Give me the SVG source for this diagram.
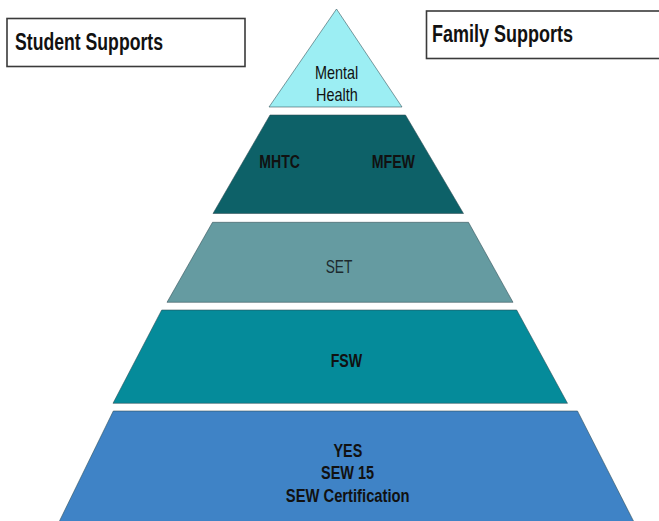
<svg xmlns="http://www.w3.org/2000/svg" width="659" height="521" viewBox="0 0 659 521">
<style>
  .box { fill: #ffffff; stroke: #3a3a3a; stroke-width: 1.6; }
  .layer { stroke: #2e4a52; stroke-opacity: 0.55; stroke-width: 1; }
  .t { font-family: "Liberation Sans", Arial, sans-serif; fill: #111111; }
  .b { font-weight: bold; }
  .h { font-size: 23px; }
  .m { font-size: 18.5px; }
</style>
<rect width="659" height="521" fill="#ffffff"/>

<g id="student-supports">
  <rect class="box" x="7" y="18.5" width="238" height="48"/>
  <text class="t b h" x="15" y="50" textLength="148" lengthAdjust="spacingAndGlyphs">Student Supports</text>
</g>

<g id="family-supports">
  <rect class="box" x="426.5" y="11" width="240" height="47.5"/>
  <text class="t b h" x="432" y="42" textLength="141" lengthAdjust="spacingAndGlyphs">Family Supports</text>
</g>

<g id="mental-health">
  <polygon class="layer" points="336.5,9 402,107 269,107" fill="#9CEEF3"/>
  <text class="t m" x="315" y="79" textLength="43.3" lengthAdjust="spacingAndGlyphs">Mental</text>
  <text class="t m" x="316" y="100.7" textLength="41.7" lengthAdjust="spacingAndGlyphs">Health</text>
</g>

<g id="mhtc-mfew">
  <polygon class="layer" points="270,115 405.5,115 463.5,213.5 213,213.5" fill="#0D6168"/>
  <text class="t b m" x="259.3" y="168.3" textLength="40.7" lengthAdjust="spacingAndGlyphs">MHTC</text>
  <text class="t b m" x="371.7" y="168.3" textLength="43.3" lengthAdjust="spacingAndGlyphs">MFEW</text>
</g>

<g id="set">
  <polygon class="layer" points="212.5,222.3 468.5,222.3 513,302.3 167,302.3" fill="#659BA1"/>
  <text class="t m" x="325.7" y="273.3" textLength="26.7" lengthAdjust="spacingAndGlyphs" style="fill:#1c2a2e">SET</text>
</g>

<g id="fsw">
  <polygon class="layer" points="161.7,310 516.7,310 567.5,403.3 113,403.3" fill="#058B9A"/>
  <text class="t b m" x="330.7" y="367.3" textLength="31.5" lengthAdjust="spacingAndGlyphs">FSW</text>
</g>

<g id="yes-sew">
  <polygon class="layer" points="113.3,411 577.5,411 634,522 59,522" fill="#3F83C6"/>
  <text class="t b m" x="333.5" y="456.7" textLength="28.8" lengthAdjust="spacingAndGlyphs">YES</text>
  <text class="t b m" x="321" y="479" textLength="53" lengthAdjust="spacingAndGlyphs">SEW 15</text>
  <text class="t b m" x="285.8" y="501.7" textLength="123.8" lengthAdjust="spacingAndGlyphs">SEW Certification</text>
</g>

<g id="connectors"></g>
</svg>
